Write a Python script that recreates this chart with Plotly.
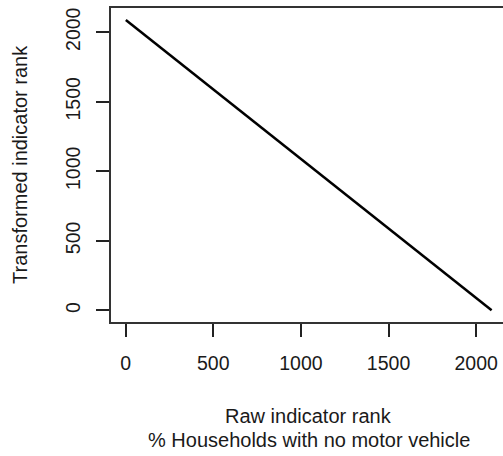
import plotly.graph_objects as go

# Data: raw rank vs transformed rank (straight line)
raw_rank = [1, 2088]
transformed_rank = [2088, 1]

x_ticks = [0, 500, 1000, 1500, 2000]
y_ticks = [0, 500, 1000, 1500, 2000]

FONT = "Liberation Sans, Arial, Helvetica, sans-serif"
TXT = "#1a1a1a"

L, R, T, B = 111, 0, 8, 134
W, H = 503, 456
plot_h = H - T - B
plot_w = W - L - R


def py(pix):
    """pixel row -> paper y"""
    return (H - B - pix) / plot_h


def px(pix):
    return (pix - L) / plot_w


fig = go.Figure()
fig.add_trace(go.Scatter(x=raw_rank, y=transformed_rank, mode="lines",
                         line=dict(color="black", width=2.5), showlegend=False,
                         hoverinfo="skip"))

fig.update_layout(
    width=W, height=H,
    margin=dict(l=L, r=R, t=T, b=B),
    paper_bgcolor="white", plot_bgcolor="white",
    font=dict(family=FONT, color=TXT),
    xaxis=dict(range=[-83.6, 2153], showgrid=False, zeroline=False,
               showline=True, linecolor="#333", linewidth=1.8, mirror=True,
               ticks="outside", ticklen=13, tickwidth=1.5, tickcolor="#222",
               tickvals=x_ticks, ticktext=[str(v) for v in x_ticks],
               tickfont=dict(size=19.5, family=FONT, color=TXT),
               ticklabelstandoff=10),
    yaxis=dict(range=[-83.6, 2173.6], showgrid=False, zeroline=False,
               showline=True, linecolor="#333", linewidth=1.8, mirror=False,
               ticks="outside", ticklen=13, tickwidth=1.5, tickcolor="#222",
               tickvals=y_ticks, ticktext=[str(v) for v in y_ticks],
               tickangle=-90,
               tickfont=dict(size=19.5, family=FONT, color=TXT),
               ticklabelstandoff=8),
    annotations=[
        dict(text="Raw indicator rank", x=1045, xref="x", y=py(416), yref="paper",
             showarrow=False, font=dict(size=20, family=FONT, color=TXT),
             xanchor="center", yanchor="middle"),
        dict(text="% Households with no motor vehicle", x=1045, xref="x", y=py(440),
             yref="paper", showarrow=False,
             font=dict(size=20, family=FONT, color=TXT),
             xanchor="center", yanchor="middle"),
        dict(text="Transformed indicator rank", x=px(20), xref="paper", y=1045,
             yref="y", showarrow=False, textangle=-90,
             font=dict(size=20, family=FONT, color=TXT),
             xanchor="center", yanchor="middle"),
    ],
)

fig.write_html("out.html", config={"displayModeBar": False},
               post_script="document.body.style.margin='0';document.body.style.overflow='hidden';")
